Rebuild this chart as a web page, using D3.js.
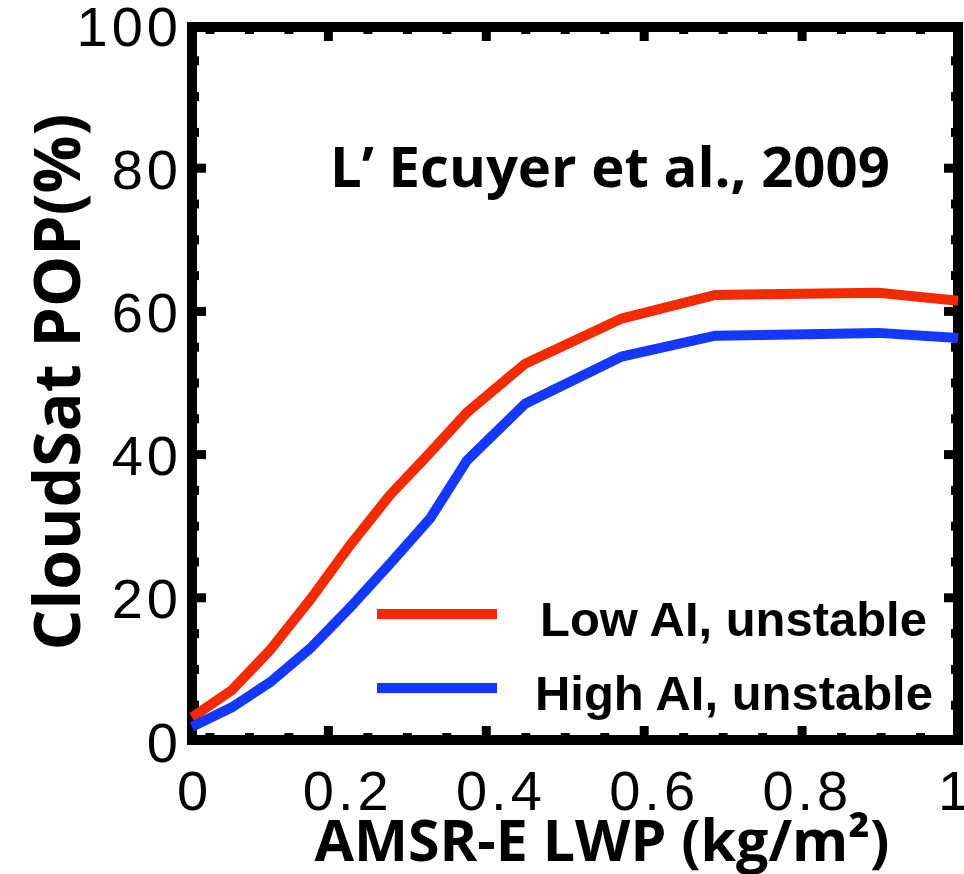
<!DOCTYPE html>
<html><head><meta charset="utf-8">
<script src="https://cdn.jsdelivr.net/npm/d3@7"></script>
<style>body{margin:0;background:#fff}</style>
</head><body>
<svg id="c" width="964" height="874"></svg>
<script>
// ---- data ----
const lwp    = [0, 0.052, 0.102, 0.154, 0.206, 0.258, 0.311, 0.359, 0.435, 0.561, 0.683, 0.896, 1.0];
const lowAI  = [3.3, 7.1, 12.7, 19.7, 27.3, 34.3, 40.3, 45.9, 52.7, 59.0, 62.3, 62.6, 61.5];
const highAI = [2.0, 4.7, 8.2, 12.9, 18.6, 24.7, 31.1, 39.2, 47.1, 53.7, 56.6, 57.0, 56.3];
const xTickValues = [0, 0.2, 0.4, 0.6, 0.8, 1];
const xTickLabels = ["0", "0.2", "0.4", "0.6", "0.8", "1"];
const yTickValues = [0, 20, 40, 60, 80, 100];
const yTickLabels = ["0", "20", "40", "60", "80", "100"];
const seriesNames  = ["Low AI, unstable", "High AI, unstable"];
const seriesColors = ["#f42a00", "#1438ff"];
const xTitle = "AMSR-E LWP (kg/m²)";
const yTitle = "CloudSat POP(%)";
const note = "L’ Ecuyer et al., 2009";

const svg = d3.select("#c");
const L = 192, R = 958, T = 27, B = 740;
const x = d3.scaleLinear().domain([0, 1]).range([L, R]);
const y = d3.scaleLinear().domain([0, 100]).range([741, 25]);
// tick-mark scale of the original (offset from labels)
const xt = d3.scaleLinear().domain([0, 1]).range([170.5, 960]);

function fit(sel, target, s0) {
  sel.style("font-size", s0 + "px");
  const len = sel.node().getComputedTextLength();
  sel.style("font-size", (s0 * target / len) + "px");
}

// frame
svg.append("rect").attr("x", L).attr("y", T).attr("width", R - L).attr("height", B - T)
  .attr("fill", "none").attr("stroke", "#000").attr("stroke-width", 10);

// tick marks
const tw = 9;
const xMinor = d3.range(1, 20).map(i => i * 0.05);
const gT = svg.append("g");
xMinor.forEach(v => {
  const major = Math.abs(v / 0.2 - Math.round(v / 0.2)) < 1e-6;
  const len = major ? 14 : 7;
  const px = xt(v);
  if (px < L + 4 || px > R - 4) return;
  gT.append("line").attr("x1", px).attr("x2", px).attr("y1", T).attr("y2", T + len)
    .attr("stroke", "#000").attr("stroke-width", tw);
  gT.append("line").attr("x1", px).attr("x2", px).attr("y1", B).attr("y2", B - len)
    .attr("stroke", "#000").attr("stroke-width", tw);
});
const yMinor = d3.range(1, 20).map(i => i * 5);
yMinor.forEach(v => {
  const major = v % 20 === 0;
  const len = major ? 14 : 7;
  const py = y(v);
  gT.append("line").attr("y1", py).attr("y2", py).attr("x1", L).attr("x2", L + len)
    .attr("stroke", "#000").attr("stroke-width", tw);
  gT.append("line").attr("y1", py).attr("y2", py).attr("x1", R).attr("x2", R - len)
    .attr("stroke", "#000").attr("stroke-width", tw);
});

// tick labels via axes
const tickFont = "'Liberation Sans', Arial, sans-serif";
const ax = svg.append("g").attr("transform", `translate(0,${B + 12})`)
  .call(d3.axisBottom(x).tickValues(xTickValues).tickFormat((d, i) => xTickLabels[i]).tickSize(0).tickPadding(0));
ax.select(".domain").remove();
ax.selectAll("text").attr("dy", null).attr("y", 58)
  .style("font-family", tickFont).style("font-size", "56px")
  .style("letter-spacing", d => d === 1 ? "0px" : "4px")
  .attr("dx", d => d === 1 ? -5 : 2).attr("fill", "#000");

const ay = svg.append("g").attr("transform", `translate(178,0)`)
  .call(d3.axisLeft(y).tickValues(yTickValues).tickFormat((d, i) => yTickLabels[i]).tickSize(0).tickPadding(0));
ay.select(".domain").remove();
ay.selectAll("text").attr("dy", "0.36em").attr("x", 4)
  .style("font-family", tickFont).style("font-size", "56px").style("letter-spacing", "4px")
  .attr("fill", "#000");

// curves
const line = d3.line().x(d => x(d[0])).y(d => y(d[1]));
const series = [lowAI, highAI];
series.forEach((vals, i) => {
  svg.append("path").datum(lwp.map((v, j) => [v, vals[j]]))
    .attr("d", line).attr("fill", "none").attr("stroke", seriesColors[i])
    .attr("stroke-width", 10).attr("stroke-linejoin", "miter");
});

// legend
const legY = [614, 688];
seriesNames.forEach((n, i) => {
  svg.append("line").attr("x1", 377).attr("x2", 497).attr("y1", legY[i]).attr("y2", legY[i])
    .attr("stroke", seriesColors[i]).attr("stroke-width", 10);
  const t = svg.append("text").attr("x", i === 0 ? 540 : 535).attr("y", legY[i] + 22)
    .style("font-family", "'Liberation Sans', Arial, sans-serif").style("font-weight", "bold")
    .text(n);
  fit(t, i === 0 ? 387 : 398, 48);
});

// annotation
const tn = svg.append("text").attr("x", 330).attr("y", 187)
  .style("font-family", "'Open Sans', sans-serif").style("font-weight", 700).text(note);
fit(tn, 560, 46);

// axis titles
const tx = svg.append("text").attr("x", 602).attr("y", 861).attr("text-anchor", "middle")
  .style("font-family", "'Open Sans', sans-serif").style("font-weight", 700).text(xTitle);
fit(tx, 575, 44);
const ty = svg.append("text").attr("transform", "translate(80,382) rotate(-90)").attr("text-anchor", "middle")
  .style("font-family", "'Open Sans', sans-serif").style("font-weight", 700).text(yTitle);
fit(ty, 537, 48);
</script>
</body></html>
